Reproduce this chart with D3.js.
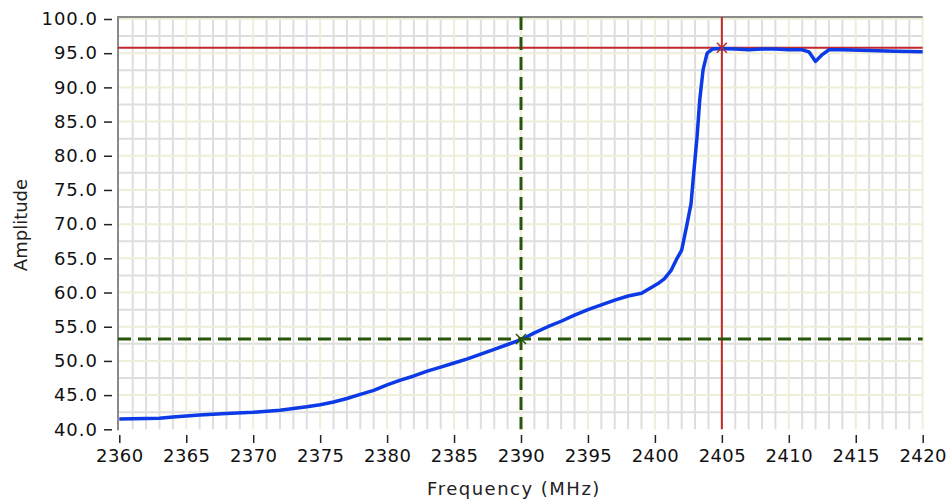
<!DOCTYPE html>
<html><head><meta charset="utf-8">
<script src="https://cdn.jsdelivr.net/npm/d3@7"></script>
<style>html,body{margin:0;padding:0;background:#fff;}svg{display:block;}</style>
</head><body>
<svg id="c" width="946" height="499"></svg>
<script>
const freq = [2360,2363,2364,2366,2368,2370,2372,2374,2375,2376,2377,2378,2379,2380,2381,2382,2383,2384,2385,2386,2387,2388,2389,2390,2391,2392,2393,2394,2395,2396,2397,2398,2399,2399.7,2400.3,2400.7,2401.2,2401.6,2402.0,2402.4,2402.7,2402.9,2403.15,2403.35,2403.6,2403.9,2404.3,2404.9,2406,2407,2408,2409,2410,2411,2411.5,2412,2412.5,2413,2414,2416,2418,2420];
const amplitude = [41.5,41.6,41.8,42.1,42.3,42.5,42.8,43.3,43.6,44.0,44.5,45.1,45.7,46.5,47.2,47.8,48.5,49.1,49.7,50.3,51.0,51.7,52.4,53.1,54.1,55.0,55.8,56.7,57.5,58.2,58.9,59.5,59.9,60.7,61.4,62.0,63.2,64.8,66.2,70.0,73.0,77.5,82.8,88.2,92.6,95.0,95.6,95.7,95.6,95.5,95.6,95.6,95.5,95.5,95.2,93.8,94.8,95.5,95.5,95.4,95.3,95.2];
const xTicks = [2360,2365,2370,2375,2380,2385,2390,2395,2400,2405,2410,2415,2420];
const yTicks = [40,45,50,55,60,65,70,75,80,85,90,95,100];
const cursorRed = [2405, 95.8];
const cursorGreen = [2390, 53.2];

const svg = d3.select("#c");
const x = d3.scaleLinear().domain([2360,2420]).range([119.3,922.7]);
const y = d3.scaleLinear().domain([40,100]).range([429.3,19]);
const L = 118, R = 922.7, T = 17, B = 429.3;

// grid
const g = svg.append("g");
const xMinor = d3.range(2360,2421,1).filter(v => v%5!==0);
const yMinor = d3.range(40,100.1,2.5).filter(v => v%5!==0);
g.selectAll(".xm").data(xMinor).join("line")
  .attr("x1",d=>x(d)).attr("x2",d=>x(d)).attr("y1",T).attr("y2",B)
  .attr("stroke","#dedede").attr("stroke-width",2);
g.selectAll(".ym").data(yMinor).join("line")
  .attr("y1",d=>y(d)).attr("y2",d=>y(d)).attr("x1",L).attr("x2",R)
  .attr("stroke","#dedede").attr("stroke-width",2);
g.selectAll(".xM").data(xTicks.slice(1)).join("line")
  .attr("x1",d=>x(d)).attr("x2",d=>x(d)).attr("y1",T).attr("y2",B)
  .attr("stroke","#efeed8").attr("stroke-width",2);
g.selectAll(".yM").data(yTicks.slice(1)).join("line")
  .attr("y1",d=>y(d)).attr("y2",d=>y(d)).attr("x1",L).attr("x2",R)
  .attr("stroke","#efeed8").attr("stroke-width",2);

// frame (left + top)
svg.append("path").attr("d",`M${L},${B+1}V${T}H${R}`).attr("fill","none")
  .attr("stroke","#8a8a8a").attr("stroke-width",2);

// axes
const font = "DejaVu Sans, Verdana, sans-serif";
const yAxis = d3.axisLeft(y).tickValues(yTicks).tickFormat(d3.format(".1f")).tickSize(8).tickPadding(6);
const ya = svg.append("g").attr("transform",`translate(${112},0)`).call(yAxis);
const xAxis = d3.axisBottom(x).tickValues(xTicks).tickFormat(d3.format("d")).tickSize(8).tickPadding(6);
const xa = svg.append("g").attr("transform",`translate(0,${435})`).call(xAxis);
[ya,xa].forEach(a=>{
  a.select(".domain").remove();
  a.selectAll(".tick line").attr("stroke","#222").attr("stroke-width",1.5);
  a.selectAll(".tick text").attr("fill","#111").style("font-family",font).style("font-size","18px");
});
ya.selectAll(".tick text").style("letter-spacing","1px");
xa.selectAll(".tick text").style("letter-spacing","0.4px");

svg.append("text").attr("x",514).attr("y",495).attr("text-anchor","middle")
  .style("font-family",font).style("font-size","18px").style("letter-spacing","1.5px")
  .attr("fill","#222").text("Frequency (MHz)");
svg.append("text").attr("transform","translate(27,225) rotate(-90)").attr("text-anchor","middle")
  .style("font-family",font).style("font-size","18px").attr("fill","#222").text("Amplitude");

// cursors
const cg = svg.append("g");
cg.append("line").attr("x1",L).attr("x2",R).attr("y1",y(cursorRed[1])).attr("y2",y(cursorRed[1]))
  .attr("stroke","#c0282a").attr("stroke-width",2);
cg.append("line").attr("x1",x(cursorRed[0])).attr("x2",x(cursorRed[0])).attr("y1",T).attr("y2",B)
  .attr("stroke","#c0282a").attr("stroke-width",2);

// curve
const line = d3.line().x((d,i)=>x(freq[i])).y(d=>y(d)).curve(d3.curveLinear);
svg.append("path").attr("d",line(amplitude)).attr("fill","none")
  .attr("stroke","#0c3ae6").attr("stroke-width",3.5).attr("stroke-linejoin","round");

// green cursor
const cg2 = svg.append("g");
cg2.append("line").attr("x1",L).attr("x2",R).attr("y1",y(cursorGreen[1])).attr("y2",y(cursorGreen[1]))
  .attr("stroke","#27560a").attr("stroke-width",3).attr("stroke-dasharray","13,7");
cg2.append("line").attr("x1",x(cursorGreen[0])).attr("x2",x(cursorGreen[0])).attr("y1",T).attr("y2",B)
  .attr("stroke","#27560a").attr("stroke-width",3).attr("stroke-dasharray","13,7");

function marker(cx,cy,col){
  const s=5;
  svg.append("path").attr("d",`M${cx-s},${cy-s}L${cx+s},${cy+s}M${cx-s},${cy+s}L${cx+s},${cy-s}`)
    .attr("stroke",col).attr("stroke-width",1.5).attr("fill","none");
}
marker(x(cursorRed[0]),y(cursorRed[1]),"#c0282a");
marker(x(cursorGreen[0]),y(cursorGreen[1]),"#27560a");
</script>
</body></html>
